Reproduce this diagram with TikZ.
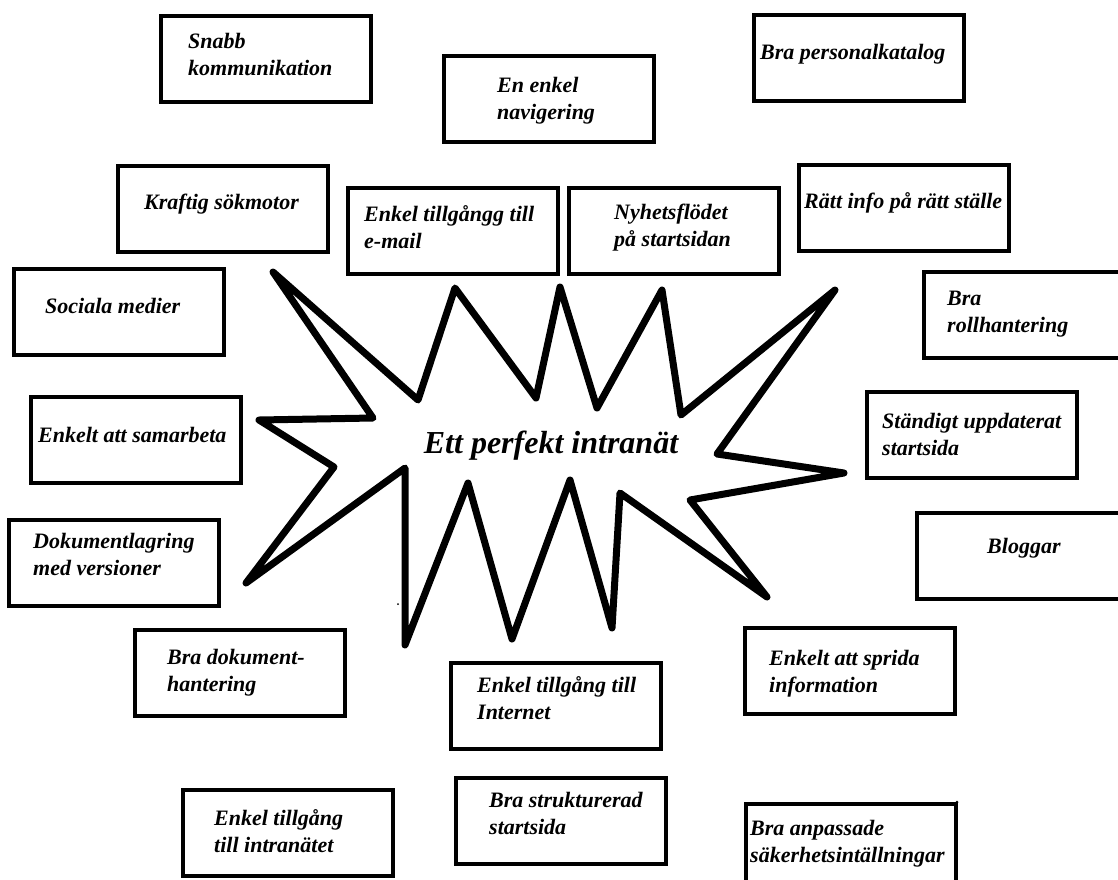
\documentclass[tikz,border=0pt]{standalone}
\usepackage{fontspec}
\setmainfont{Liberation Serif}
\tikzset{
  box/.style={draw, line width=3.8pt, minimum width=210pt, minimum height=86pt,
              inner sep=0pt, anchor=north west},
  % multi-line labels hang from the baseline of their last line
  txt/.style={font=\bfseries\itshape\fontsize{22}{26.5}\selectfont, align=left,
              inner sep=0pt, anchor=base west},
  burst/.style={draw, line width=7pt, line join=round, line cap=round},
  title/.style={font=\bfseries\itshape\fontsize{32}{36}\selectfont, inner sep=0pt, anchor=base}
}
\begin{document}
\begin{tikzpicture}[x=1pt, y=-1pt]
\clip (0,0) rectangle (1118,879);
\fill[white] (0,0) rectangle (1118,879);

% central burst
\draw[burst]
  (259,420) -- (373,418) -- (273,272) -- (418,400) -- (455,288) -- (536,398)
  -- (560,287) -- (597,408) -- (662,290) -- (681,415) -- (835,290) -- (717,454)
  -- (844,473) -- (690,500) -- (767,597) -- (620,493) -- (612,628) -- (570,480)
  -- (512,639) -- (468,483) -- (405,645) -- (405,468) -- (246,583) -- (334,467)
  -- cycle;
\node[title] (core) at (551,453) {Ett perfekt intranät};

% surrounding wishes
\node[box] (snabb) at (159,14) {};
\node[txt] (snabbt) at (188,75) {Snabb\\kommunikation};

\node[box] (navig) at (442,54) {};
\node[txt] (navigt) at (497,119) {En enkel\\navigering};

\node[box] (personal) at (752,13) {};
\node[txt] (personalt) at (760,59) {Bra personalkatalog};

\node[box] (kraftig) at (116,164) {};
\node[txt] (kraftigt) at (144,209) {Kraftig sökmotor};

\node[box] (email) at (346,186) {};
\node[txt] (emailt) at (364,248) {Enkel tillgångg till\\e-mail};

\node[box] (nyhet) at (567,186) {};
\node[txt] (nyhett) at (614,246) {Nyhetsflödet\\på startsidan};

\node[box] (ratt) at (797,163) {};
\node[txt] (rattt) at (804,208) {Rätt info på rätt ställe};

\node[box] (social) at (12,267) {};
\node[txt] (socialt) at (45,313) {Sociala medier};

\node[box] (roll) at (922,270) {};
\node[txt] (rollt) at (947,332) {Bra\\rollhantering};

\node[box] (samarb) at (29,395) {};
\node[txt] (samarbt) at (38,442) {Enkelt att samarbeta};

\node[box] (uppd) at (865,390) {};
\node[txt] (uppdt) at (882,455) {Ständigt uppdaterat\\startsida};

\node[box] (lagring) at (7,518) {};
\node[txt] (lagringt) at (33,575) {Dokumentlagring\\med versioner};

\node[box] (blogg) at (915,511) {};
\node[txt] (bloggt) at (987,553) {Bloggar};

\node[box] (dokhant) at (133,628) {};
\node[txt] (dokhantt) at (167,691) {Bra dokument-\\hantering};

\node[box] (internet) at (449,661) {};
\node[txt] (internett) at (477,719) {Enkel tillgång till\\Internet};

\node[box] (sprida) at (743,626) {};
\node[txt] (spridat) at (769,692) {Enkelt att sprida\\information};

\node[box] (intra) at (181,788) {};
\node[txt] (intrat) at (214,852) {Enkel tillgång\\till intranätet};

\node[box] (strukt) at (454,776) {};
\node[txt] (struktt) at (489,834) {Bra strukturerad\\startsida};

\node[box] (saker) at (744,802) {};
\node[txt] (sakert) at (750,862) {Bra anpassade\\säkerhetsintällningar};

% specks
\fill (398,604) circle (1pt);
\fill (957,802) circle (1.5pt);
\end{tikzpicture}
\end{document}
